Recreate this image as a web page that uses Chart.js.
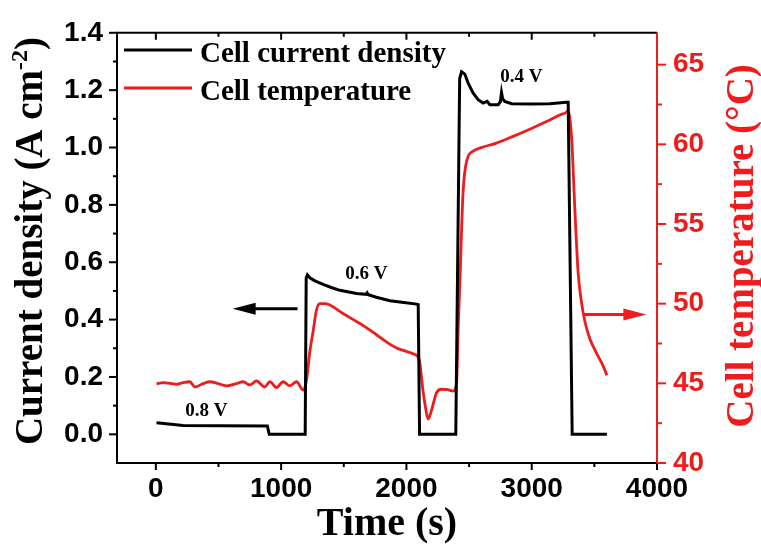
<!DOCTYPE html>
<html>
<head>
<meta charset="utf-8">
<script src="https://cdn.jsdelivr.net/npm/chart.js@4.4.1/dist/chart.umd.min.js"></script>
<style>
  body { margin: 0; background: #fff; }
  #wrap { width: 761px; height: 557px; position: relative; }
</style>
</head>
<body>
<div id="wrap"><canvas id="myChart"></canvas></div>
<script>
// current density (A cm-2) vs time (s)
var currentTime = [5, 218, 500, 890, 905, 1192, 1200, 1210, 1229, 1270, 1335, 1400, 1469, 1540, 1602, 1680, 1687, 1695, 1760, 1868, 1980, 2081, 2094, 2105, 2394, 2425, 2440, 2466, 2493, 2532, 2572, 2612, 2644, 2666, 2732, 2750, 2759, 2768, 2785, 2839, 2985, 3144, 3278, 3291, 3323, 3600];
var currentDensity = [0.040, 0.031, 0.030, 0.029, 0.0, 0.0, 0.545, 0.556, 0.546, 0.535, 0.523, 0.512, 0.502, 0.496, 0.491, 0.488, 0.493, 0.487, 0.478, 0.466, 0.460, 0.454, 0.452, 0.0, 0.0, 1.24, 1.264, 1.256, 1.224, 1.19, 1.167, 1.155, 1.161, 1.149, 1.149, 1.160, 1.192, 1.170, 1.161, 1.153, 1.152, 1.153, 1.158, 1.158, 0.0, 0.0];

// cell temperature (°C) vs time (s)
var tempTime = [5, 58, 165, 218, 271, 311, 378, 431, 484, 564, 644, 697, 750, 803, 870, 910, 963, 1016, 1069, 1123, 1176, 1189, 1203, 1229, 1256, 1282, 1309, 1350, 1380, 1415, 1500, 1602, 1680, 1761, 1840, 1921, 2000, 2054, 2094, 2107, 2120, 2133, 2150, 2173, 2200, 2240, 2280, 2330, 2373, 2400, 2413, 2426, 2452, 2484, 2532, 2612, 2719, 2852, 2985, 3118, 3224, 3282, 3291, 3318, 3344, 3370, 3397, 3424, 3464, 3517, 3570, 3600];
var cellTemp = [44.98, 45.04, 44.94, 45.04, 45.10, 44.77, 44.98, 45.10, 45.02, 44.84, 44.98, 45.10, 44.90, 45.15, 44.77, 45.10, 44.73, 45.10, 44.84, 45.10, 44.57, 44.73, 45.2, 47.0, 48.3, 49.6, 50.0, 50.0, 49.95, 49.8, 49.35, 48.88, 48.5, 48.05, 47.6, 47.22, 47.0, 46.85, 46.64, 46.3, 45.4, 44.5, 43.6, 42.76, 43.3, 44.4, 44.63, 44.6, 44.52, 45.0, 48.4, 51.2, 56.96, 59.04, 59.57, 59.83, 60.08, 60.5, 60.95, 61.43, 61.84, 62.05, 62.15, 60.5, 56.0, 52.0, 50.1, 48.9, 47.8, 46.9, 46.1, 45.5];

var timeTicks = [0, 1000, 2000, 3000, 4000];
var timeMinor = [500, 1500, 2500, 3500];
var currentTicks = [0.0, 0.2, 0.4, 0.6, 0.8, 1.0, 1.2, 1.4];
var currentMinor = [0.1, 0.3, 0.5, 0.7, 0.9, 1.1, 1.3];
var tempTicks = [40, 45, 50, 55, 60, 65];
var tempMinor = [42.5, 47.5, 52.5, 57.5, 62.5];

var voltLabels = ['0.8 V', '0.6 V', '0.4 V'];
var voltAt = [[403, 0.065], [1681, 0.543], [2918, 1.229]];

var RED = '#ee1c1c';
var serif = 'Liberation Serif, Times New Roman, serif';
var sans = 'Liberation Sans, Arial, sans-serif';

function toPoints(xs, ys) {
    return xs.map(function (x, i) { return { x: x, y: ys[i] }; });
}

function fixedTicks(list) {
    return function (scale) {
        scale.ticks = list.map(function (v) { return { value: v }; });
    };
}

// axis frame, tick marks, legend, voltage labels, arrows and the rotated y titles
var decorations = {
    id: 'decorations',
    afterDatasetsDraw: function (chart) {
        var ctx = chart.ctx;
        var a = chart.chartArea;
        var sx = chart.scales.x, sy = chart.scales.y, sy2 = chart.scales.y2;
        ctx.save();
        ctx.lineWidth = 2;
        ctx.lineCap = 'butt';

        ctx.strokeStyle = '#000';
        ctx.beginPath();
        ctx.moveTo(a.right, a.top);
        ctx.lineTo(a.left, a.top);
        ctx.lineTo(a.left, a.bottom);
        ctx.lineTo(a.right, a.bottom);
        ctx.stroke();

        function xTicks(vals, len) {
            vals.forEach(function (v) {
                var p = sx.getPixelForValue(v);
                ctx.beginPath();
                ctx.moveTo(p, a.bottom); ctx.lineTo(p, a.bottom + len);
                ctx.moveTo(p, a.top); ctx.lineTo(p, a.top + len);
                ctx.stroke();
            });
        }
        function yTicks(scale, vals, x, len) {
            vals.forEach(function (v) {
                var p = scale.getPixelForValue(v);
                ctx.beginPath();
                ctx.moveTo(x, p); ctx.lineTo(x + len, p);
                ctx.stroke();
            });
        }
        xTicks(timeTicks, 7);
        xTicks(timeMinor, 4);
        yTicks(sy, currentTicks, a.left, -8);
        yTicks(sy, currentMinor, a.left, -4);

        ctx.strokeStyle = RED;
        ctx.beginPath();
        ctx.moveTo(a.right, a.top); ctx.lineTo(a.right, a.bottom);
        ctx.stroke();
        yTicks(sy2, tempTicks, a.right, 9);
        yTicks(sy2, tempMinor, a.right, 5);

        // legend
        var ds = chart.data.datasets;
        ctx.font = 'bold 29px ' + serif;
        ctx.textAlign = 'left';
        ctx.textBaseline = 'alphabetic';
        ds.forEach(function (d, i) {
            var y = 50 + i * 38;
            ctx.strokeStyle = d.borderColor;
            ctx.lineWidth = 3;
            ctx.beginPath();
            ctx.moveTo(124, y); ctx.lineTo(192, y);
            ctx.stroke();
            ctx.fillStyle = '#000';
            ctx.fillText(d.label, 200, y + 12);
        });

        // operating voltage labels
        ctx.font = 'bold 19px ' + serif;
        ctx.textAlign = 'center';
        voltLabels.forEach(function (t, i) {
            ctx.fillText(t, sx.getPixelForValue(voltAt[i][0]), sy.getPixelForValue(voltAt[i][1]));
        });

        // arrows pointing to each axis
        function arrow(x0, x1, y, color) {
            var dir = x1 > x0 ? 1 : -1;
            ctx.strokeStyle = color;
            ctx.fillStyle = color;
            ctx.lineWidth = 3;
            ctx.beginPath();
            ctx.moveTo(x0, y); ctx.lineTo(x1 - dir * 18, y);
            ctx.stroke();
            ctx.beginPath();
            ctx.moveTo(x1, y);
            ctx.lineTo(x1 - dir * 23, y - 6);
            ctx.lineTo(x1 - dir * 23, y + 6);
            ctx.closePath();
            ctx.fill();
        }
        var ay = sy.getPixelForValue(0.438);
        arrow(sx.getPixelForValue(1131), sx.getPixelForValue(613), ay, '#000');
        var by = sy2.getPixelForValue(49.32);
        arrow(sx.getPixelForValue(3415), sx.getPixelForValue(3915), by, RED);

        // y axis titles, read bottom to top
        ctx.font = 'bold 39px ' + serif;
        ctx.textAlign = 'left';
        var main = 'Current density (A cm';
        var w1 = ctx.measureText(main).width;
        ctx.font = 'bold 24px ' + serif;
        var w2 = ctx.measureText('-2').width;
        ctx.font = 'bold 39px ' + serif;
        var w3 = ctx.measureText(')').width;
        var total = w1 + w2 + w3;
        ctx.save();
        ctx.translate(42, 241);
        ctx.rotate(-Math.PI / 2);
        ctx.fillStyle = '#000';
        var x = -total / 2;
        ctx.fillText(main, x, 0);
        ctx.font = 'bold 24px ' + serif;
        ctx.fillText('-2', x + w1, -15);
        ctx.font = 'bold 39px ' + serif;
        ctx.fillText(')', x + w1 + w2, 0);
        ctx.restore();

        ctx.save();
        ctx.translate(753, 246);
        ctx.rotate(-Math.PI / 2);
        ctx.fillStyle = RED;
        ctx.textAlign = 'center';
        ctx.fillText('Cell temperature (\u00B0C)', 0, 0);
        ctx.restore();

        ctx.restore();
    }
};

var ctx = document.getElementById('myChart').getContext('2d');
var myChart = new Chart(ctx, {
    type: 'line',
    data: {
        datasets: [{
            label: 'Cell current density',
            data: toPoints(currentTime, currentDensity),
            yAxisID: 'y',
            borderColor: '#000',
            borderWidth: 3,
            pointRadius: 0,
            tension: 0
        }, {
            label: 'Cell temperature',
            data: toPoints(tempTime, cellTemp),
            yAxisID: 'y2',
            borderColor: RED,
            borderWidth: 2.8,
            pointRadius: 0,
            cubicInterpolationMode: 'monotone'
        }]
    },
    plugins: [decorations],
    options: {
        responsive: true,
        maintainAspectRatio: false,
        animation: false,
        layout: { padding: { top: 29, left: 0, right: 0, bottom: 0 } },
        plugins: {
            legend: { display: false },
            tooltip: { enabled: false }
        },
        scales: {
            x: {
                type: 'linear',
                min: -310,
                max: 4000,
                afterBuildTicks: fixedTicks(timeTicks),
                afterFit: function (s) { s.height = 94; },
                grid: { display: false, drawTicks: false },
                border: { display: false },
                ticks: {
                    autoSkip: false,
                    maxRotation: 0,
                    padding: 9,
                    color: '#000',
                    font: { family: sans, weight: 'bold', size: 28 },
                    callback: function (v) { return String(v); }
                },
                title: {
                    display: true,
                    text: 'Time (s)',
                    color: '#000',
                    padding: { top: 0, bottom: 8 },
                    font: { family: serif, weight: 'bold', size: 40 }
                }
            },
            y: {
                type: 'linear',
                position: 'left',
                min: -0.1,
                max: 1.4,
                afterBuildTicks: fixedTicks(currentTicks),
                afterFit: function (s) { s.width = 117; },
                grid: { display: false, drawTicks: false },
                border: { display: false },
                ticks: {
                    autoSkip: false,
                    padding: 14,
                    color: '#000',
                    font: { family: sans, weight: 'bold', size: 28 },
                    callback: function (v) { return v.toFixed(1); }
                }
            },
            y2: {
                type: 'linear',
                position: 'right',
                min: 40,
                max: 67,
                afterBuildTicks: fixedTicks(tempTicks),
                afterFit: function (s) { s.width = 104; },
                grid: { display: false, drawTicks: false },
                border: { display: false },
                ticks: {
                    autoSkip: false,
                    padding: 16,
                    color: RED,
                    font: { family: sans, weight: 'bold', size: 28 },
                    callback: function (v) { return String(v); }
                }
            }
        }
    }
});
</script>
</body>
</html>
